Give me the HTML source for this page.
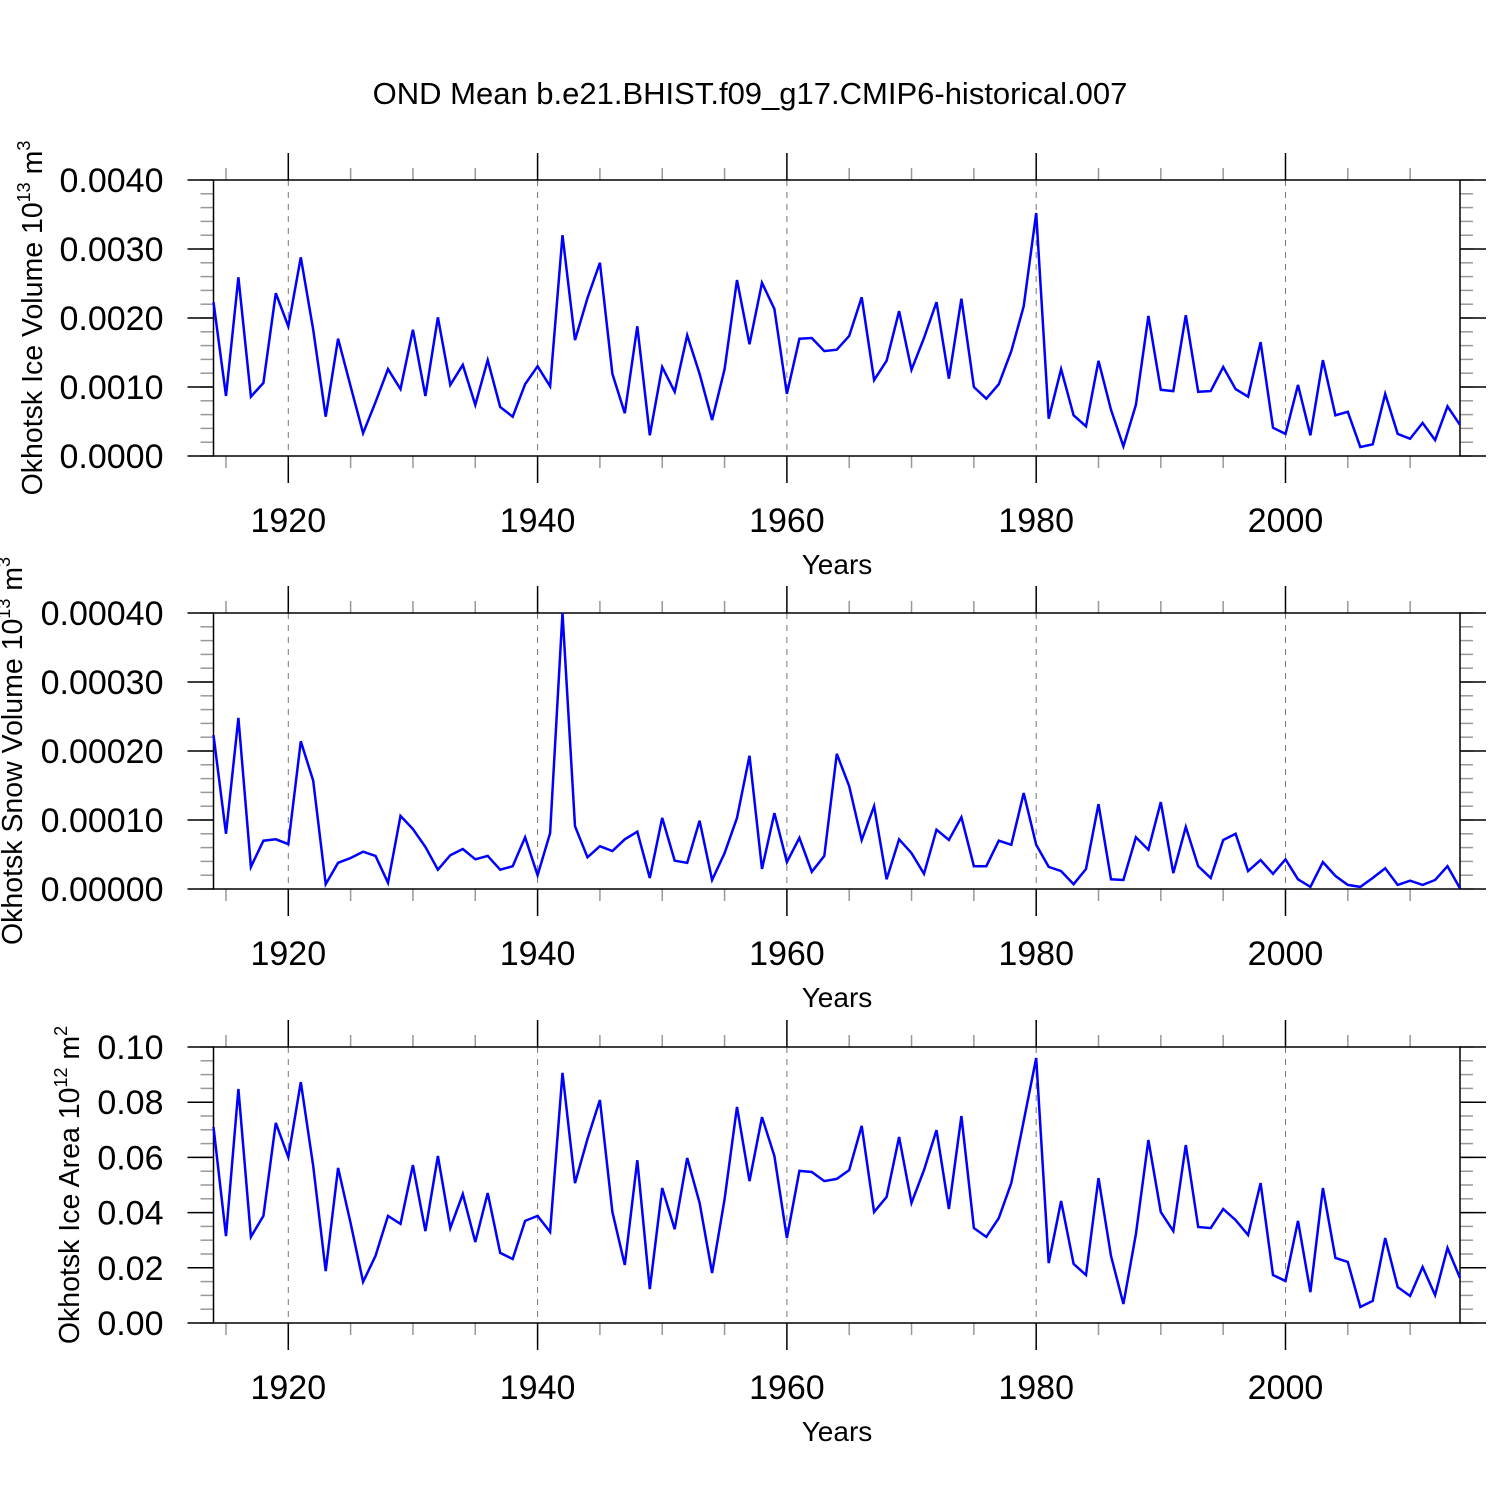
<!DOCTYPE html>
<html><head><meta charset="utf-8"><style>
body{margin:0;background:#fff}
svg{display:block;font-family:"Liberation Sans",sans-serif}
</style></head><body>
<svg id="chart" width="1500" height="1500" viewBox="0 0 1500 1500">
<text x="750" y="104" font-size="31" text-anchor="middle">OND Mean b.e21.BHIST.f09_g17.CMIP6-historical.007</text>
</svg>
<script>
const years = [];
for (let y = 1914; y <= 2014; y++) years.push(y);
const iceVolume = [0.00223,0.00087,0.00259,0.00086,0.00106,0.00236,0.00188,0.00288,0.00183,0.00057,0.0017,0.00101,0.00033,0.00078,0.00126,0.00097,0.00183,0.00087,0.00201,0.00103,0.00132,0.00074,0.00139,0.00071,0.00057,0.00104,0.0013,0.00101,0.0032,0.00168,0.00229,0.0028,0.00119,0.00062,0.00188,0.0003,0.00129,0.00093,0.00175,0.00119,0.00052,0.00126,0.00255,0.00162,0.00251,0.00213,0.0009,0.0017,0.00171,0.00152,0.00154,0.00174,0.0023,0.0011,0.00138,0.0021,0.00125,0.00171,0.00223,0.00112,0.00228,0.001,0.00083,0.00104,0.00152,0.00217,0.00352,0.00054,0.00126,0.00059,0.00043,0.00138,0.00067,0.00014,0.00074,0.00203,0.00096,0.00094,0.00204,0.00093,0.00094,0.00129,0.00097,0.00086,0.00165,0.00041,0.00032,0.00103,0.0003,0.00139,0.00059,0.00064,0.00013,0.00017,0.0009,0.00032,0.00025,0.00048,0.00023,0.00072,0.00045];
const snowVolumeE4 = [2.23,0.8,2.48,0.32,0.7,0.72,0.65,2.14,1.57,0.07,0.38,0.45,0.54,0.48,0.09,1.06,0.87,0.61,0.28,0.49,0.58,0.43,0.48,0.28,0.33,0.75,0.2,0.81,4.0,0.91,0.46,0.62,0.55,0.72,0.83,0.16,1.03,0.41,0.38,0.99,0.13,0.52,1.03,1.93,0.29,1.1,0.39,0.74,0.25,0.48,1.96,1.49,0.71,1.2,0.14,0.72,0.52,0.22,0.86,0.71,1.04,0.33,0.33,0.7,0.64,1.39,0.64,0.32,0.26,0.07,0.29,1.23,0.14,0.13,0.75,0.57,1.26,0.23,0.9,0.33,0.16,0.71,0.8,0.26,0.42,0.22,0.43,0.14,0.03,0.39,0.19,0.06,0.03,0.16,0.3,0.06,0.12,0.06,0.13,0.33,0.01];
const iceArea = [0.071,0.0315,0.0848,0.0312,0.0388,0.0725,0.0601,0.0873,0.0569,0.0188,0.0562,0.0362,0.0149,0.0243,0.0388,0.0359,0.0572,0.0333,0.0605,0.0344,0.0467,0.0293,0.0471,0.0254,0.0232,0.037,0.0388,0.033,0.0906,0.0507,0.0667,0.0808,0.0402,0.021,0.059,0.0123,0.0489,0.034,0.0598,0.0435,0.0181,0.0449,0.0783,0.0514,0.0746,0.0605,0.0308,0.0551,0.0547,0.0514,0.0522,0.0554,0.0714,0.0402,0.0457,0.0674,0.0435,0.0554,0.0699,0.0413,0.075,0.0344,0.0312,0.038,0.0507,0.0732,0.096,0.0217,0.0442,0.0214,0.0174,0.0525,0.0243,0.0069,0.0322,0.0663,0.0402,0.0333,0.0645,0.0348,0.0344,0.0413,0.0373,0.0319,0.0507,0.0174,0.0152,0.037,0.0112,0.0489,0.0236,0.0221,0.0058,0.008,0.0308,0.013,0.0098,0.0203,0.0101,0.0272,0.0163];
const xTickLabels = ["1920","1940","1960","1980","2000"];
const iceVolTicks = ["0.0000","0.0010","0.0020","0.0030","0.0040"];
const snowTicks = ["0.00000","0.00010","0.00020","0.00030","0.00040"];
const areaTicks = ["0.00","0.02","0.04","0.06","0.08","0.10"];
const snowVolume = snowVolumeE4.map(v => v * 1e-4);

const NS = "http://www.w3.org/2000/svg";
const svg = document.getElementById("chart");
function mk(tag, attrs, parent) {
  const e = document.createElementNS(NS, tag);
  for (const k in attrs) e.setAttribute(k, attrs[k]);
  (parent || svg).appendChild(e);
  return e;
}
const X0 = 213.5, X1 = 1460;
const xScale = y => X0 + (y - 1914) / 100 * (X1 - X0);

function panel(id, top, bottom, vmax, ticks, minorStep, values, titleHtml, titleX) {
  const g = mk("g", {});
  
  
  const yScale = v => bottom - v / vmax * (bottom - top);
  for (let yr = 1920; yr <= 2000; yr += 20) {
    const gl = mk("line", {x1: xScale(yr), x2: xScale(yr), y1: top, y2: bottom, stroke: "#777", "stroke-width": 1, "stroke-dasharray": "6,6"}, g);
    
    
  }
  for (let yr = 1915; yr <= 2010; yr += 5) {
    const major = yr % 20 === 0;
    const len = major ? 27 : 12;
    const c = major ? "#000" : "#999";
    mk("line", {x1: xScale(yr), x2: xScale(yr), y1: top, y2: top - len, stroke: c, "stroke-width": 1.5}, g);
    mk("line", {x1: xScale(yr), x2: xScale(yr), y1: bottom, y2: bottom + len, stroke: c, "stroke-width": 1.5}, g);
  }
  xTickLabels.forEach(l => {
    const t = mk("text", {x: xScale(+l), y: bottom + 76, "font-size": 34, "text-anchor": "middle"}, g);
    t.textContent = l;
    
    
  });
  const xt = mk("text", {x: 837, y: bottom + 118, "font-size": 28, "text-anchor": "middle"}, g);
  xt.textContent = "Years";
  
  
  for (let v = 0; v <= vmax + 1e-12; v += minorStep) {
    const y = yScale(v);
    mk("line", {x1: X0, x2: X0 - 13, y1: y, y2: y, stroke: "#999", "stroke-width": 1.5}, g);
    mk("line", {x1: X1, x2: X1 + 13, y1: y, y2: y, stroke: "#999", "stroke-width": 1.5}, g);
  }
  ticks.forEach(l => {
    const y = yScale(+l);
    mk("line", {x1: X0, x2: X0 - 26, y1: y, y2: y, stroke: "#000", "stroke-width": 1.5}, g);
    mk("line", {x1: X1, x2: X1 + 26, y1: y, y2: y, stroke: "#000", "stroke-width": 1.5}, g);
    const t = mk("text", {x: X0 - 50, y: y + 12, "font-size": 34, "text-anchor": "end"}, g);
    t.textContent = l;
    
    
  });
  const fr = mk("rect", {x: X0, y: top, width: X1 - X0, height: bottom - top, fill: "none", stroke: "#000", "stroke-width": 1.5}, g);
  
  
  const pts = values.map((v, i) => xScale(years[i]).toFixed(1) + "," + yScale(v).toFixed(1)).join(" ");
  const pl = mk("polyline", {points: pts, fill: "none", stroke: "#0000ff", "stroke-width": 2.5, "stroke-linejoin": "miter"}, g);
  
  
  const cy = (top + bottom) / 2;
  const yt = mk("text", {x: titleX, y: cy, "font-size": 28.5, "text-anchor": "middle", transform: `rotate(-90 ${titleX} ${cy})`}, g);
  yt.innerHTML = titleHtml;
  
  
}
panel("ice-volume", 180, 456, 0.004, iceVolTicks, 0.0002, iceVolume,
  'Okhotsk Ice Volume 10<tspan font-size="18" dy="-12">13</tspan><tspan dy="12"> m</tspan><tspan font-size="18" dy="-12">3</tspan>', 42);
panel("snow-volume", 613, 889, 0.0004, snowTicks, 0.00002, snowVolume,
  'Okhotsk Snow Volume 10<tspan font-size="18" dy="-12">13</tspan><tspan dy="12"> m</tspan><tspan font-size="18" dy="-12">3</tspan>', 22);
panel("ice-area", 1047, 1323, 0.1, areaTicks, 0.005, iceArea,
  'Okhotsk Ice Area 10<tspan font-size="18" dy="-12">12</tspan><tspan dy="12"> m</tspan><tspan font-size="18" dy="-12">2</tspan>', 79);
</script>
</body></html>
